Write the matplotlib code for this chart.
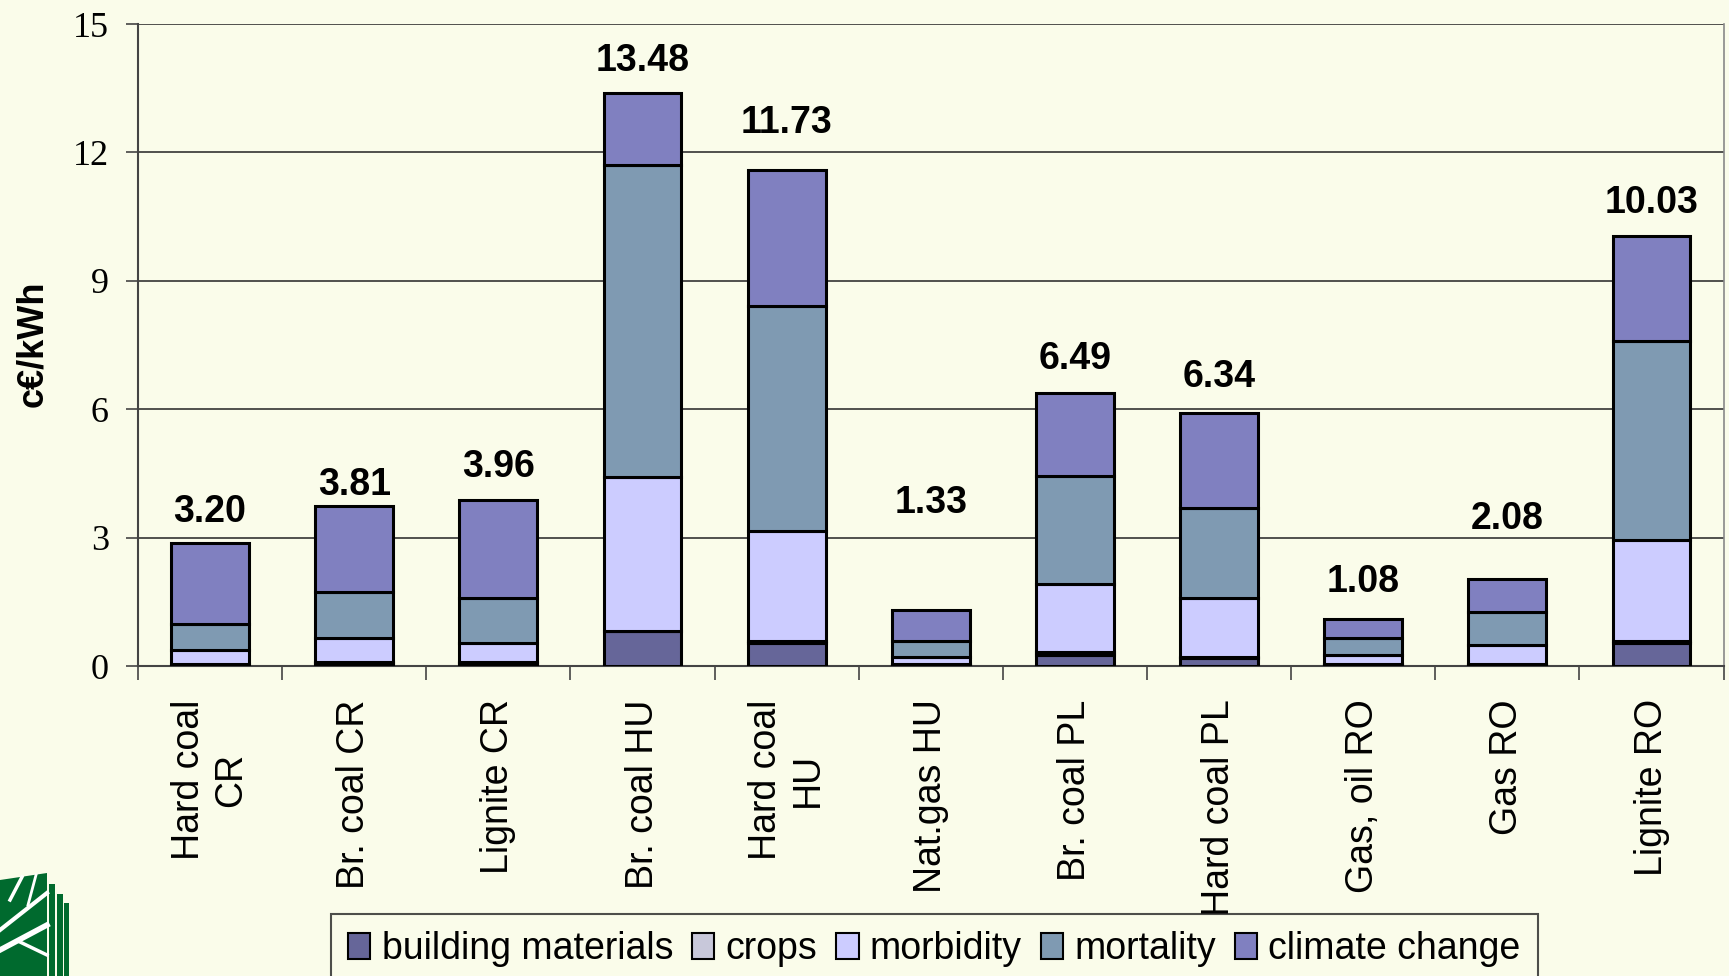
import matplotlib.pyplot as plt
from matplotlib.patches import Polygon, Rectangle
from matplotlib.lines import Line2D
import numpy as np

# plants (x categories)
plants = ["Hard coal\nCR", "Br. coal CR", "Lignite CR", "Br. coal HU", "Hard coal\nHU",
          "Nat.gas HU", "Br. coal PL", "Hard coal PL", "Gas, oil RO", "Gas RO", "Lignite RO"]

# external cost components, c€/kWh
building_materials = [0.04, 0.07, 0.07, 0.81, 0.53, 0.03, 0.26, 0.18, 0.03, 0.03, 0.53]
crops = [0.01, 0.02, 0.02, 0.01, 0.06, 0.02, 0.07, 0.02, 0.01, 0.01, 0.06]
morbidity = [0.32, 0.57, 0.44, 3.59, 2.56, 0.17, 1.59, 1.40, 0.22, 0.44, 2.35]
mortality = [0.61, 1.06, 1.06, 7.30, 5.26, 0.37, 2.52, 2.10, 0.40, 0.78, 4.66]
climate_change = [1.90, 2.01, 2.30, 1.68, 3.19, 0.73, 1.93, 2.22, 0.44, 0.78, 2.44]

# total labels as printed above the bars
totals = ["3.20", "3.81", "3.96", "13.48", "11.73", "1.33", "6.49", "6.34", "1.08", "2.08", "10.03"]

series_names = ["building materials", "crops", "morbidity", "mortality", "climate change"]

# layout / style
colors = ["#666699", "#C8C8DA", "#CCCCFF", "#7F9AB2", "#8080C0"]
label_y = [3.60, 4.22, 4.66, 14.14, 12.69, 3.81, 7.17, 6.75, 1.97, 3.44, 10.81]
BG = "#FAFCEA"
SANS = "Liberation Sans"
SERIF = "Liberation Serif"

fig = plt.figure(figsize=(17.29, 9.76), dpi=100, facecolor=BG)
ax = fig.add_axes([0.0798, 0.3176, 0.9171, 0.6578])
ax.set_facecolor(BG)

x = np.arange(len(plants))
series = [building_materials, crops, morbidity, mortality, climate_change]
bottom = np.zeros(len(plants))
handles = []
for vals, name, col in zip(series, series_names, colors):
    b = ax.bar(x, vals, width=0.54, bottom=bottom, color=col, edgecolor="black",
               linewidth=2.2, label=name, zorder=3)
    handles.append(b)
    bottom += np.array(vals)

for xi, txt, yl in zip(x, totals, label_y):
    ax.text(xi, yl, txt, ha="center", va="center", fontsize=27, fontweight="bold",
            family=SANS, color="black", zorder=4)

ax.set_xlim(-0.5, len(plants) - 0.5)
ax.set_ylim(0, 15)
ax.set_yticks([0, 3, 6, 9, 12, 15])
ax.yaxis.grid(True, color="#333333", linewidth=1.2, zorder=0)
ax.set_axisbelow(True)

ax.set_xticks(x)
ax.set_xticklabels(plants, rotation=90, fontsize=27, family=SANS, va="top",
                   ha="center", multialignment="center")
ax.set_xticks(np.arange(-0.5, len(plants)), minor=True)
ax.tick_params(axis="x", which="major", length=0, pad=24)
ax.tick_params(axis="x", which="minor", length=10, width=1.2, color="#444444", direction="out")
ax.tick_params(axis="y", length=9, width=1.2, color="#444444", pad=12)
for lab in ax.get_yticklabels():
    lab.set_family(SERIF)
    lab.set_fontsize(26)

ax.spines["top"].set_visible(False)
ax.spines["left"].set_color("#444444")
ax.spines["left"].set_linewidth(1.5)
ax.spines["bottom"].set_color("#444444")
ax.spines["bottom"].set_linewidth(1.5)
ax.spines["right"].set_color("#888888")
ax.spines["right"].set_linewidth(1.2)

fig.text(0.019, 1 - 344 / 976, "c€/kWh", rotation=90, ha="center", va="center",
         fontsize=26, fontweight="bold", family=SANS)

leg = fig.legend(handles=handles, labels=series_names, loc="upper left",
                 bbox_to_anchor=(331 / 1729, 1 - 914 / 976), ncol=5, frameon=True,
                 fancybox=False, borderaxespad=0, borderpad=0.45,
                 handlelength=0.6, handleheight=0.7, handletextpad=0.3,
                 columnspacing=0.5, prop={"family": SANS, "size": 27})
leg.get_frame().set_facecolor(BG)
leg.get_frame().set_edgecolor("#222222")
leg.get_frame().set_linewidth(1.5)
for h in leg.legend_handles:
    h.set_linewidth(1.5)

# logo in the lower left corner
green = "#006a2e"
W, H = 1729, 976
def fx(px):
    return px / W
def fy(py):
    return 1 - py / H
fig.patches.append(Polygon([(fx(0), fy(880)), (fx(47), fy(873)), (fx(47), fy(976)),
                            (fx(0), fy(976))], closed=True, transform=fig.transFigure,
                           facecolor=green, edgecolor="none"))
for x0, top in [(49, 884), (57, 894), (64, 903)]:
    fig.patches.append(Rectangle((fx(x0), fy(976)), fx(5.5), fy(top) - fy(976),
                                 transform=fig.transFigure, facecolor=green, edgecolor="none"))
for (x1, y1, x2, y2, lw) in [(0, 950, 47, 925, 4), (0, 930, 47, 893, 3), (10, 900, 22, 877, 2.5),
                             (20, 942, 47, 955, 2.5), (28, 905, 36, 875, 2)]:
    fig.lines.append(Line2D([fx(x1), fx(x2)], [fy(y1), fy(y2)], transform=fig.transFigure,
                            color="white", linewidth=lw))

fig.savefig("out.png", dpi=100, facecolor=BG)
